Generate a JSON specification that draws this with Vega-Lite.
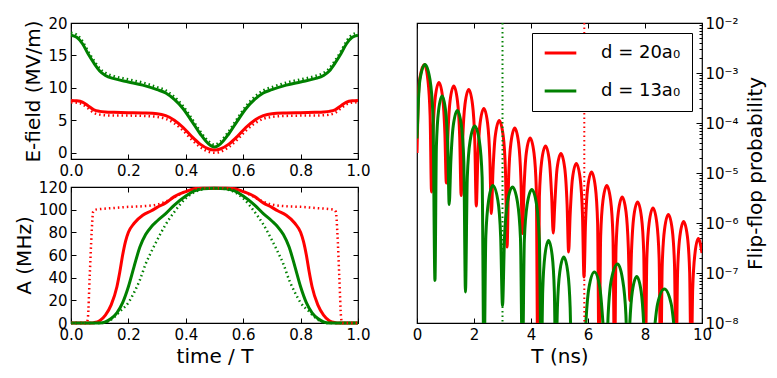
{
  "$schema": "https://vega.github.io/schema/vega-lite/v6.json",
  "background": "white",
  "padding": {"left": 13, "top": 15, "right": 5, "bottom": 5},
  "config": {
    "font": "DejaVu Sans",
    "view": {"stroke": "black", "strokeWidth": 1.2},
    "axis": {"labelFont": "DejaVu Sans", "labelFontSize": 15, "labelColor": "black", "titleFont": "DejaVu Sans", "titleFontSize": 20, "titleFontWeight": "normal", "titleColor": "black", "tickColor": "black", "tickSize": -5, "tickWidth": 1, "labelPadding": 9, "domain": false, "grid": false, "labelFlush": false, "labelOverlap": false, "labelBound": false},
    "line": {"strokeJoin": "round"}
  },
  "datasets": {
    "ef": [
      {"t":0,"v":8.05,"d":"20","k":"s"},{"t":0.02,"v":8.0,"d":"20","k":"s"},{"t":0.04,"v":7.8,"d":"20","k":"s"},{"t":0.06,"v":7.2,"d":"20","k":"s"},{"t":0.08,"v":6.6,"d":"20","k":"s"},{"t":0.1,"v":6.35,"d":"20","k":"s"},{"t":0.12,"v":6.25,"d":"20","k":"s"},{"t":0.15,"v":6.2,"d":"20","k":"s"},{"t":0.2,"v":6.15,"d":"20","k":"s"},{"t":0.25,"v":6.1,"d":"20","k":"s"},{"t":0.3,"v":6.0,"d":"20","k":"s"},{"t":0.33,"v":5.7,"d":"20","k":"s"},{"t":0.36,"v":5.0,"d":"20","k":"s"},{"t":0.39,"v":3.9,"d":"20","k":"s"},{"t":0.42,"v":2.5,"d":"20","k":"s"},{"t":0.45,"v":1.3,"d":"20","k":"s"},{"t":0.48,"v":0.55,"d":"20","k":"s"},{"t":0.5,"v":0.4,"d":"20","k":"s"},{"t":0.52,"v":0.55,"d":"20","k":"s"},{"t":0.55,"v":1.3,"d":"20","k":"s"},{"t":0.58,"v":2.5,"d":"20","k":"s"},{"t":0.61,"v":3.9,"d":"20","k":"s"},{"t":0.64,"v":5.0,"d":"20","k":"s"},{"t":0.67,"v":5.7,"d":"20","k":"s"},{"t":0.7,"v":6.0,"d":"20","k":"s"},{"t":0.75,"v":6.1,"d":"20","k":"s"},{"t":0.8,"v":6.15,"d":"20","k":"s"},{"t":0.85,"v":6.2,"d":"20","k":"s"},{"t":0.88,"v":6.25,"d":"20","k":"s"},{"t":0.9,"v":6.35,"d":"20","k":"s"},{"t":0.92,"v":6.6,"d":"20","k":"s"},{"t":0.94,"v":7.2,"d":"20","k":"s"},{"t":0.96,"v":7.8,"d":"20","k":"s"},{"t":0.98,"v":8.0,"d":"20","k":"s"},{"t":1,"v":8.05,"d":"20","k":"s"},
      {"t":0,"v":18.1,"d":"13","k":"s"},{"t":0.02,"v":17.8,"d":"13","k":"s"},{"t":0.04,"v":16.8,"d":"13","k":"s"},{"t":0.06,"v":15.2,"d":"13","k":"s"},{"t":0.08,"v":13.8,"d":"13","k":"s"},{"t":0.1,"v":12.6,"d":"13","k":"s"},{"t":0.12,"v":11.9,"d":"13","k":"s"},{"t":0.15,"v":11.4,"d":"13","k":"s"},{"t":0.2,"v":10.9,"d":"13","k":"s"},{"t":0.25,"v":10.4,"d":"13","k":"s"},{"t":0.3,"v":9.7,"d":"13","k":"s"},{"t":0.33,"v":9.2,"d":"13","k":"s"},{"t":0.36,"v":8.2,"d":"13","k":"s"},{"t":0.39,"v":6.8,"d":"13","k":"s"},{"t":0.42,"v":4.9,"d":"13","k":"s"},{"t":0.45,"v":2.9,"d":"13","k":"s"},{"t":0.48,"v":1.3,"d":"13","k":"s"},{"t":0.5,"v":0.85,"d":"13","k":"s"},{"t":0.52,"v":1.3,"d":"13","k":"s"},{"t":0.55,"v":2.9,"d":"13","k":"s"},{"t":0.58,"v":4.9,"d":"13","k":"s"},{"t":0.61,"v":6.8,"d":"13","k":"s"},{"t":0.64,"v":8.2,"d":"13","k":"s"},{"t":0.67,"v":9.2,"d":"13","k":"s"},{"t":0.7,"v":9.7,"d":"13","k":"s"},{"t":0.75,"v":10.4,"d":"13","k":"s"},{"t":0.8,"v":10.9,"d":"13","k":"s"},{"t":0.85,"v":11.4,"d":"13","k":"s"},{"t":0.88,"v":11.9,"d":"13","k":"s"},{"t":0.9,"v":12.6,"d":"13","k":"s"},{"t":0.92,"v":13.8,"d":"13","k":"s"},{"t":0.94,"v":15.2,"d":"13","k":"s"},{"t":0.96,"v":16.8,"d":"13","k":"s"},{"t":0.98,"v":17.8,"d":"13","k":"s"},{"t":1,"v":18.1,"d":"13","k":"s"},
      {"t":0,"v":7.75,"d":"20","k":"o"},{"t":0.02,"v":7.7,"d":"20","k":"o"},{"t":0.04,"v":7.45,"d":"20","k":"o"},{"t":0.06,"v":6.8,"d":"20","k":"o"},{"t":0.08,"v":6.1,"d":"20","k":"o"},{"t":0.1,"v":5.85,"d":"20","k":"o"},{"t":0.12,"v":5.75,"d":"20","k":"o"},{"t":0.15,"v":5.7,"d":"20","k":"o"},{"t":0.2,"v":5.7,"d":"20","k":"o"},{"t":0.25,"v":5.65,"d":"20","k":"o"},{"t":0.3,"v":5.5,"d":"20","k":"o"},{"t":0.33,"v":5.2,"d":"20","k":"o"},{"t":0.36,"v":4.5,"d":"20","k":"o"},{"t":0.39,"v":3.4,"d":"20","k":"o"},{"t":0.42,"v":2.0,"d":"20","k":"o"},{"t":0.45,"v":0.85,"d":"20","k":"o"},{"t":0.48,"v":0.1,"d":"20","k":"o"},{"t":0.5,"v":-0.05,"d":"20","k":"o"},{"t":0.52,"v":0.1,"d":"20","k":"o"},{"t":0.55,"v":0.85,"d":"20","k":"o"},{"t":0.58,"v":2.0,"d":"20","k":"o"},{"t":0.61,"v":3.4,"d":"20","k":"o"},{"t":0.64,"v":4.5,"d":"20","k":"o"},{"t":0.67,"v":5.2,"d":"20","k":"o"},{"t":0.7,"v":5.5,"d":"20","k":"o"},{"t":0.75,"v":5.65,"d":"20","k":"o"},{"t":0.8,"v":5.7,"d":"20","k":"o"},{"t":0.85,"v":5.7,"d":"20","k":"o"},{"t":0.88,"v":5.75,"d":"20","k":"o"},{"t":0.9,"v":5.85,"d":"20","k":"o"},{"t":0.92,"v":6.1,"d":"20","k":"o"},{"t":0.94,"v":6.8,"d":"20","k":"o"},{"t":0.96,"v":7.45,"d":"20","k":"o"},{"t":0.98,"v":7.7,"d":"20","k":"o"},{"t":1,"v":7.75,"d":"20","k":"o"},
      {"t":0,"v":18.5,"d":"13","k":"o"},{"t":0.02,"v":18.2,"d":"13","k":"o"},{"t":0.04,"v":17.2,"d":"13","k":"o"},{"t":0.06,"v":15.6,"d":"13","k":"o"},{"t":0.08,"v":14.2,"d":"13","k":"o"},{"t":0.1,"v":13.0,"d":"13","k":"o"},{"t":0.12,"v":12.3,"d":"13","k":"o"},{"t":0.15,"v":11.8,"d":"13","k":"o"},{"t":0.2,"v":11.3,"d":"13","k":"o"},{"t":0.25,"v":10.8,"d":"13","k":"o"},{"t":0.3,"v":10.1,"d":"13","k":"o"},{"t":0.33,"v":9.6,"d":"13","k":"o"},{"t":0.36,"v":8.6,"d":"13","k":"o"},{"t":0.39,"v":7.2,"d":"13","k":"o"},{"t":0.42,"v":5.3,"d":"13","k":"o"},{"t":0.45,"v":3.3,"d":"13","k":"o"},{"t":0.48,"v":1.7,"d":"13","k":"o"},{"t":0.5,"v":1.2,"d":"13","k":"o"},{"t":0.52,"v":1.7,"d":"13","k":"o"},{"t":0.55,"v":3.3,"d":"13","k":"o"},{"t":0.58,"v":5.3,"d":"13","k":"o"},{"t":0.61,"v":7.2,"d":"13","k":"o"},{"t":0.64,"v":8.6,"d":"13","k":"o"},{"t":0.67,"v":9.6,"d":"13","k":"o"},{"t":0.7,"v":10.1,"d":"13","k":"o"},{"t":0.75,"v":10.8,"d":"13","k":"o"},{"t":0.8,"v":11.3,"d":"13","k":"o"},{"t":0.85,"v":11.8,"d":"13","k":"o"},{"t":0.88,"v":12.3,"d":"13","k":"o"},{"t":0.9,"v":13.0,"d":"13","k":"o"},{"t":0.92,"v":14.2,"d":"13","k":"o"},{"t":0.94,"v":15.6,"d":"13","k":"o"},{"t":0.96,"v":17.2,"d":"13","k":"o"},{"t":0.98,"v":18.2,"d":"13","k":"o"},{"t":1,"v":18.5,"d":"13","k":"o"}
    ],
    "am": [
      {"t":0,"v":0,"d":"20","k":"s"},{"t":0.07,"v":0,"d":"20","k":"s"},{"t":0.08,"v":0.3,"d":"20","k":"s"},{"t":0.1,"v":2,"d":"20","k":"s"},{"t":0.12,"v":7,"d":"20","k":"s"},{"t":0.14,"v":16,"d":"20","k":"s"},{"t":0.16,"v":32,"d":"20","k":"s"},{"t":0.17,"v":45,"d":"20","k":"s"},{"t":0.18,"v":60,"d":"20","k":"s"},{"t":0.19,"v":72,"d":"20","k":"s"},{"t":0.2,"v":80,"d":"20","k":"s"},{"t":0.22,"v":88,"d":"20","k":"s"},{"t":0.25,"v":95,"d":"20","k":"s"},{"t":0.28,"v":99,"d":"20","k":"s"},{"t":0.3,"v":102,"d":"20","k":"s"},{"t":0.33,"v":106,"d":"20","k":"s"},{"t":0.36,"v":111.5,"d":"20","k":"s"},{"t":0.4,"v":116,"d":"20","k":"s"},{"t":0.43,"v":118.5,"d":"20","k":"s"},{"t":0.46,"v":119,"d":"20","k":"s"},{"t":0.5,"v":119,"d":"20","k":"s"},{"t":0.54,"v":119,"d":"20","k":"s"},{"t":0.57,"v":118.5,"d":"20","k":"s"},{"t":0.6,"v":116,"d":"20","k":"s"},{"t":0.64,"v":111.5,"d":"20","k":"s"},{"t":0.67,"v":106,"d":"20","k":"s"},{"t":0.7,"v":102,"d":"20","k":"s"},{"t":0.72,"v":99,"d":"20","k":"s"},{"t":0.75,"v":95,"d":"20","k":"s"},{"t":0.78,"v":88,"d":"20","k":"s"},{"t":0.8,"v":80,"d":"20","k":"s"},{"t":0.81,"v":72,"d":"20","k":"s"},{"t":0.82,"v":60,"d":"20","k":"s"},{"t":0.83,"v":45,"d":"20","k":"s"},{"t":0.84,"v":32,"d":"20","k":"s"},{"t":0.86,"v":16,"d":"20","k":"s"},{"t":0.88,"v":7,"d":"20","k":"s"},{"t":0.9,"v":2,"d":"20","k":"s"},{"t":0.92,"v":0.3,"d":"20","k":"s"},{"t":0.93,"v":0,"d":"20","k":"s"},{"t":1,"v":0,"d":"20","k":"s"},
      {"t":0,"v":0,"d":"13","k":"s"},{"t":0.1,"v":0,"d":"13","k":"s"},{"t":0.12,"v":1,"d":"13","k":"s"},{"t":0.14,"v":4,"d":"13","k":"s"},{"t":0.16,"v":9,"d":"13","k":"s"},{"t":0.18,"v":18,"d":"13","k":"s"},{"t":0.2,"v":32,"d":"13","k":"s"},{"t":0.22,"v":50,"d":"13","k":"s"},{"t":0.24,"v":67,"d":"13","k":"s"},{"t":0.26,"v":78,"d":"13","k":"s"},{"t":0.28,"v":85,"d":"13","k":"s"},{"t":0.3,"v":90,"d":"13","k":"s"},{"t":0.33,"v":96.5,"d":"13","k":"s"},{"t":0.36,"v":104,"d":"13","k":"s"},{"t":0.4,"v":112,"d":"13","k":"s"},{"t":0.43,"v":116.5,"d":"13","k":"s"},{"t":0.46,"v":118.5,"d":"13","k":"s"},{"t":0.5,"v":119,"d":"13","k":"s"},{"t":0.54,"v":118.5,"d":"13","k":"s"},{"t":0.57,"v":116.5,"d":"13","k":"s"},{"t":0.6,"v":112,"d":"13","k":"s"},{"t":0.64,"v":104,"d":"13","k":"s"},{"t":0.67,"v":96.5,"d":"13","k":"s"},{"t":0.7,"v":90,"d":"13","k":"s"},{"t":0.72,"v":85,"d":"13","k":"s"},{"t":0.74,"v":78,"d":"13","k":"s"},{"t":0.76,"v":67,"d":"13","k":"s"},{"t":0.78,"v":50,"d":"13","k":"s"},{"t":0.8,"v":32,"d":"13","k":"s"},{"t":0.82,"v":18,"d":"13","k":"s"},{"t":0.84,"v":9,"d":"13","k":"s"},{"t":0.86,"v":4,"d":"13","k":"s"},{"t":0.88,"v":1,"d":"13","k":"s"},{"t":0.9,"v":0,"d":"13","k":"s"},{"t":1,"v":0,"d":"13","k":"s"},
      {"t":0,"v":0,"d":"20","k":"o"},{"t":0.055,"v":0,"d":"20","k":"o"},{"t":0.059,"v":5,"d":"20","k":"o"},{"t":0.065,"v":40,"d":"20","k":"o"},{"t":0.072,"v":80,"d":"20","k":"o"},{"t":0.077,"v":98,"d":"20","k":"o"},{"t":0.085,"v":100,"d":"20","k":"o"},{"t":0.1,"v":100.5,"d":"20","k":"o"},{"t":0.15,"v":101.5,"d":"20","k":"o"},{"t":0.2,"v":102.5,"d":"20","k":"o"},{"t":0.25,"v":103,"d":"20","k":"o"},{"t":0.3,"v":104.5,"d":"20","k":"o"},{"t":0.33,"v":107,"d":"20","k":"o"},{"t":0.36,"v":111,"d":"20","k":"o"},{"t":0.4,"v":116,"d":"20","k":"o"},{"t":0.43,"v":118.5,"d":"20","k":"o"},{"t":0.46,"v":119,"d":"20","k":"o"},{"t":0.5,"v":119,"d":"20","k":"o"},{"t":0.54,"v":119,"d":"20","k":"o"},{"t":0.57,"v":118.5,"d":"20","k":"o"},{"t":0.6,"v":116,"d":"20","k":"o"},{"t":0.64,"v":111,"d":"20","k":"o"},{"t":0.67,"v":107,"d":"20","k":"o"},{"t":0.7,"v":104.5,"d":"20","k":"o"},{"t":0.75,"v":103,"d":"20","k":"o"},{"t":0.8,"v":102.5,"d":"20","k":"o"},{"t":0.85,"v":101.5,"d":"20","k":"o"},{"t":0.9,"v":100.5,"d":"20","k":"o"},{"t":0.915,"v":100,"d":"20","k":"o"},{"t":0.923,"v":98,"d":"20","k":"o"},{"t":0.928,"v":80,"d":"20","k":"o"},{"t":0.935,"v":40,"d":"20","k":"o"},{"t":0.941,"v":5,"d":"20","k":"o"},{"t":0.945,"v":0,"d":"20","k":"o"},{"t":1,"v":0,"d":"20","k":"o"},
      {"t":0,"v":0,"d":"13","k":"o"},{"t":0.11,"v":0,"d":"13","k":"o"},{"t":0.13,"v":1.5,"d":"13","k":"o"},{"t":0.15,"v":5,"d":"13","k":"o"},{"t":0.17,"v":10,"d":"13","k":"o"},{"t":0.2,"v":18,"d":"13","k":"o"},{"t":0.22,"v":27,"d":"13","k":"o"},{"t":0.24,"v":38,"d":"13","k":"o"},{"t":0.26,"v":52,"d":"13","k":"o"},{"t":0.28,"v":63,"d":"13","k":"o"},{"t":0.3,"v":73,"d":"13","k":"o"},{"t":0.33,"v":87,"d":"13","k":"o"},{"t":0.36,"v":98,"d":"13","k":"o"},{"t":0.4,"v":110,"d":"13","k":"o"},{"t":0.43,"v":115.5,"d":"13","k":"o"},{"t":0.46,"v":118,"d":"13","k":"o"},{"t":0.5,"v":119,"d":"13","k":"o"},{"t":0.54,"v":118,"d":"13","k":"o"},{"t":0.57,"v":115.5,"d":"13","k":"o"},{"t":0.6,"v":110,"d":"13","k":"o"},{"t":0.64,"v":98,"d":"13","k":"o"},{"t":0.67,"v":87,"d":"13","k":"o"},{"t":0.7,"v":73,"d":"13","k":"o"},{"t":0.72,"v":63,"d":"13","k":"o"},{"t":0.74,"v":52,"d":"13","k":"o"},{"t":0.76,"v":38,"d":"13","k":"o"},{"t":0.78,"v":27,"d":"13","k":"o"},{"t":0.8,"v":18,"d":"13","k":"o"},{"t":0.83,"v":10,"d":"13","k":"o"},{"t":0.85,"v":5,"d":"13","k":"o"},{"t":0.87,"v":1.5,"d":"13","k":"o"},{"t":0.89,"v":0,"d":"13","k":"o"},{"t":1,"v":0,"d":"13","k":"o"}
    ],
    "ff": [
      {"T":0,"P":2.51e-5,"d":"20"},{"T":0.04,"P":2.51e-4,"d":"20"},{"T":0.1,"P":7.94e-4,"d":"20"},{"T":0.26,"P":1.48e-3,"d":"20"},{"T":0.38,"P":7.41e-4,"d":"20"},{"T":0.46,"P":1.41e-4,"d":"20"},{"T":0.51,"P":4.17e-6,"d":"20"},
      {"T":0.562,"P":6.17e-5,"d":"20"},{"T":0.64,"P":3.24e-4,"d":"20"},{"T":0.77,"P":6.46e-4,"d":"20"},{"T":0.9,"P":3.24e-4,"d":"20"},{"T":0.978,"P":6.17e-5,"d":"20"},{"T":1.03,"P":6.31e-6,"d":"20"},
      {"T":1.082,"P":5.25e-5,"d":"20"},{"T":1.16,"P":2.75e-4,"d":"20"},{"T":1.29,"P":5.5e-4,"d":"20"},{"T":1.42,"P":2.75e-4,"d":"20"},{"T":1.498,"P":5.25e-5,"d":"20"},{"T":1.55,"P":3.55e-6,"d":"20"},
      {"T":1.603,"P":4.47e-5,"d":"20"},{"T":1.683,"P":2.34e-4,"d":"20"},{"T":1.815,"P":4.68e-4,"d":"20"},{"T":1.948,"P":2.34e-4,"d":"20"},{"T":2.027,"P":4.47e-5,"d":"20"},{"T":2.08,"P":2.19e-6,"d":"20"},
      {"T":2.133,"P":1.86e-5,"d":"20"},{"T":2.213,"P":9.77e-5,"d":"20"},{"T":2.345,"P":1.95e-4,"d":"20"},{"T":2.478,"P":9.77e-5,"d":"20"},{"T":2.557,"P":1.86e-5,"d":"20"},{"T":2.61,"P":1.55e-6,"d":"20"},
      {"T":2.665,"P":1.07e-5,"d":"20"},{"T":2.748,"P":5.62e-5,"d":"20"},{"T":2.885,"P":1.12e-4,"d":"20"},{"T":3.023,"P":5.62e-5,"d":"20"},{"T":3.105,"P":1.07e-5,"d":"20"},{"T":3.16,"P":3.31e-7,"d":"20"},
      {"T":3.214,"P":7.59e-6,"d":"20"},{"T":3.295,"P":3.98e-5,"d":"20"},{"T":3.43,"P":7.94e-5,"d":"20"},{"T":3.565,"P":3.98e-5,"d":"20"},{"T":3.646,"P":7.59e-6,"d":"20"},{"T":3.7,"P":6.17e-7,"d":"20"},
      {"T":3.754,"P":4.79e-6,"d":"20"},{"T":3.835,"P":2.51e-5,"d":"20"},{"T":3.97,"P":5.01e-5,"d":"20"},{"T":4.105,"P":2.51e-5,"d":"20"},{"T":4.186,"P":4.79e-6,"d":"20"},{"T":4.24,"P":1e-9,"d":"20"},
      {"T":4.294,"P":3.31e-6,"d":"20"},{"T":4.375,"P":1.74e-5,"d":"20"},{"T":4.51,"P":3.47e-5,"d":"20"},{"T":4.645,"P":1.74e-5,"d":"20"},{"T":4.726,"P":3.31e-6,"d":"20"},{"T":4.78,"P":6.31e-7,"d":"20"},
      {"T":4.834,"P":2.34e-6,"d":"20"},{"T":4.915,"P":1.23e-5,"d":"20"},{"T":5.05,"P":2.45e-5,"d":"20"},{"T":5.185,"P":1.23e-5,"d":"20"},{"T":5.266,"P":2.34e-6,"d":"20"},{"T":5.32,"P":2.63e-7,"d":"20"},
      {"T":5.374,"P":1.48e-6,"d":"20"},{"T":5.455,"P":7.76e-6,"d":"20"},{"T":5.59,"P":1.55e-5,"d":"20"},{"T":5.725,"P":7.76e-6,"d":"20"},{"T":5.806,"P":1.48e-6,"d":"20"},{"T":5.86,"P":8.32e-8,"d":"20"},
      {"T":5.913,"P":1e-6,"d":"20"},{"T":5.993,"P":5.25e-6,"d":"20"},{"T":6.125,"P":1.05e-5,"d":"20"},{"T":6.258,"P":5.25e-6,"d":"20"},{"T":6.337,"P":1e-6,"d":"20"},{"T":6.39,"P":1e-9,"d":"20"},
      {"T":6.444,"P":5.37e-7,"d":"20"},{"T":6.525,"P":2.82e-6,"d":"20"},{"T":6.66,"P":5.62e-6,"d":"20"},{"T":6.795,"P":2.82e-6,"d":"20"},{"T":6.876,"P":5.37e-7,"d":"20"},{"T":6.93,"P":1e-9,"d":"20"},
      {"T":6.984,"P":3.16e-7,"d":"20"},{"T":7.065,"P":1.66e-6,"d":"20"},{"T":7.2,"P":3.31e-6,"d":"20"},{"T":7.335,"P":1.66e-6,"d":"20"},{"T":7.416,"P":3.16e-7,"d":"20"},{"T":7.47,"P":2.82e-8,"d":"20"},
      {"T":7.524,"P":2.51e-7,"d":"20"},{"T":7.605,"P":1.32e-6,"d":"20"},{"T":7.74,"P":2.63e-6,"d":"20"},{"T":7.875,"P":1.32e-6,"d":"20"},{"T":7.956,"P":2.51e-7,"d":"20"},{"T":8.01,"P":1e-9,"d":"20"},
      {"T":8.064,"P":1.91e-7,"d":"20"},{"T":8.145,"P":1e-6,"d":"20"},{"T":8.28,"P":2.0e-6,"d":"20"},{"T":8.415,"P":1e-6,"d":"20"},{"T":8.496,"P":1.91e-7,"d":"20"},{"T":8.55,"P":1e-9,"d":"20"},
      {"T":8.604,"P":1.41e-7,"d":"20"},{"T":8.685,"P":7.41e-7,"d":"20"},{"T":8.82,"P":1.48e-6,"d":"20"},{"T":8.955,"P":7.41e-7,"d":"20"},{"T":9.036,"P":1.41e-7,"d":"20"},{"T":9.09,"P":1e-9,"d":"20"},
      {"T":9.143,"P":1.02e-7,"d":"20"},{"T":9.223,"P":5.37e-7,"d":"20"},{"T":9.355,"P":1.07e-6,"d":"20"},{"T":9.488,"P":5.37e-7,"d":"20"},{"T":9.567,"P":1.02e-7,"d":"20"},{"T":9.62,"P":1e-9,"d":"20"},
      {"T":9.673,"P":4.68e-8,"d":"20"},{"T":9.753,"P":2.45e-7,"d":"20"},{"T":9.87,"P":4.9e-7,"d":"20"},{"T":10,"P":2.51e-7,"d":"20"},
      {"T":0,"P":4.9e-5,"d":"13"},{"T":0.05,"P":2.82e-4,"d":"13"},{"T":0.105,"P":7.41e-4,"d":"13"},{"T":0.28,"P":1.48e-3,"d":"13"},{"T":0.455,"P":7.41e-4,"d":"13"},{"T":0.56,"P":1.41e-4,"d":"13"},{"T":0.63,"P":7.08e-8,"d":"13"},
      {"T":0.68,"P":3.31e-5,"d":"13"},{"T":0.755,"P":1.74e-4,"d":"13"},{"T":0.88,"P":3.47e-4,"d":"13"},{"T":1.005,"P":1.74e-4,"d":"13"},{"T":1.08,"P":3.31e-5,"d":"13"},{"T":1.13,"P":2.34e-6,"d":"13"},
      {"T":1.187,"P":1.7e-5,"d":"13"},{"T":1.273,"P":8.91e-5,"d":"13"},{"T":1.415,"P":1.78e-4,"d":"13"},{"T":1.558,"P":8.91e-5,"d":"13"},{"T":1.643,"P":1.7e-5,"d":"13"},{"T":1.7,"P":4.17e-8,"d":"13"},
      {"T":1.765,"P":8.32e-6,"d":"13"},{"T":1.863,"P":4.37e-5,"d":"13"},{"T":2.025,"P":8.71e-5,"d":"13"},{"T":2.188,"P":4.37e-5,"d":"13"},{"T":2.285,"P":8.32e-6,"d":"13"},{"T":2.35,"P":1e-9,"d":"13"},
      {"T":2.415,"P":5.37e-7,"d":"13"},{"T":2.513,"P":2.82e-6,"d":"13"},{"T":2.66,"P":5.62e-6,"d":"13"},{"T":2.838,"P":2.82e-6,"d":"13"},{"T":2.935,"P":5.37e-7,"d":"13"},{"T":3.0,"P":2.24e-8,"d":"13"},
      {"T":3.07,"P":5.01e-7,"d":"13"},{"T":3.175,"P":2.63e-6,"d":"13"},{"T":3.35,"P":5.25e-6,"d":"13"},{"T":3.525,"P":2.63e-6,"d":"13"},{"T":3.63,"P":5.01e-7,"d":"13"},{"T":3.7,"P":1e-9,"d":"13"},
      {"T":3.766,"P":4.47e-7,"d":"13"},{"T":3.865,"P":2.34e-6,"d":"13"},{"T":4.03,"P":4.68e-6,"d":"13"},{"T":4.195,"P":2.34e-6,"d":"13"},{"T":4.294,"P":4.47e-7,"d":"13"},{"T":4.36,"P":1e-9,"d":"13"},
      {"T":4.411,"P":4.27e-8,"d":"13"},{"T":4.488,"P":2.24e-7,"d":"13"},{"T":4.615,"P":4.47e-7,"d":"13"},{"T":4.743,"P":2.24e-7,"d":"13"},{"T":4.819,"P":4.27e-8,"d":"13"},{"T":4.87,"P":1e-9,"d":"13"},
      {"T":4.926,"P":2.0e-8,"d":"13"},{"T":5.01,"P":1.05e-7,"d":"13"},{"T":5.15,"P":2.09e-7,"d":"13"},{"T":5.29,"P":1.05e-7,"d":"13"},{"T":5.374,"P":2.0e-8,"d":"13"},{"T":5.43,"P":1e-9,"d":"13"},
      {"T":5.655,"P":3.98e-9,"d":"13"},{"T":5.85,"P":1e-9,"d":"13"},
      {"T":5.925,"P":1e-8,"d":"13"},{"T":6.0375,"P":5.25e-8,"d":"13"},{"T":6.225,"P":1.05e-7,"d":"13"},{"T":6.4125,"P":5.25e-8,"d":"13"},{"T":6.525,"P":1e-8,"d":"13"},{"T":6.63,"P":1e-9,"d":"13"},
      {"T":6.707,"P":1.45e-8,"d":"13"},{"T":6.823,"P":7.59e-8,"d":"13"},{"T":7.04,"P":1.51e-7,"d":"13"},{"T":7.21,"P":7.59e-8,"d":"13"},{"T":7.33,"P":1.45e-8,"d":"13"},{"T":7.4,"P":1e-9,"d":"13"},
      {"T":7.46,"P":8.13e-9,"d":"13"},{"T":7.555,"P":4.27e-8,"d":"13"},{"T":7.71,"P":8.51e-8,"d":"13"},{"T":7.865,"P":4.27e-8,"d":"13"},{"T":7.96,"P":8.13e-9,"d":"13"},{"T":8.02,"P":1e-9,"d":"13"},
      {"T":8.13,"P":3.16e-9,"d":"13"},{"T":8.2,"P":1e-9,"d":"13"},
      {"T":8.296,"P":4.57e-9,"d":"13"},{"T":8.44,"P":2.4e-8,"d":"13"},{"T":8.68,"P":4.79e-8,"d":"13"},{"T":8.92,"P":2.4e-8,"d":"13"},{"T":9.064,"P":4.57e-9,"d":"13"},{"T":9.16,"P":1e-9,"d":"13"},
      {"T":9.5,"P":3.16e-9,"d":"13"},{"T":10,"P":1e-9,"d":"13"}
    ],
    "vl": [
      {"T":3.0,"d":"13"},{"T":5.87,"d":"20"}
    ]
  },
  "hconcat": [
    {
      "vconcat": [
        {
          "width": 287, "height": 136,
          "data": {"name": "ef"},
          "layer": [
            {
              "transform": [{"filter": "datum.k == 's'"}],
              "mark": {"type": "line", "strokeWidth": 3, "interpolate": "monotone"},
              "encoding": {
                "x": {"field": "t", "type": "quantitative", "scale": {"domain": [0, 1], "nice": false}, "axis": {"orient": "bottom", "title": null, "values": [0, 0.2, 0.4, 0.6, 0.8, 1], "format": ".1f"}},
                "y": {"field": "v", "type": "quantitative", "scale": {"domain": [-1, 20], "nice": false}, "axis": {"orient": "left", "title": "E-field (MV/m)", "values": [0, 5, 10, 15, 20]}},
                "color": {"field": "d", "type": "nominal", "scale": {"domain": ["20", "13"], "range": ["#ff0000", "#008000"]}, "legend": null}
              }
            },
            {
              "transform": [{"filter": "datum.k == 'o'"}],
              "mark": {"type": "line", "strokeWidth": 2.5, "strokeDash": [1.5, 3], "interpolate": "monotone"},
              "encoding": {
                "x": {"field": "t", "type": "quantitative", "scale": {"domain": [0, 1], "nice": false}, "axis": {"orient": "top", "labels": false, "title": null, "values": [0, 0.2, 0.4, 0.6, 0.8, 1]}},
                "y": {"field": "v", "type": "quantitative", "scale": {"domain": [-1, 20], "nice": false}, "axis": {"orient": "right", "labels": false, "title": null, "values": [0, 5, 10, 15, 20]}},
                "color": {"field": "d", "type": "nominal", "scale": {"domain": ["20", "13"], "range": ["#ff0000", "#008000"]}, "legend": null}
              }
            }
          ],
          "resolve": {"scale": {"x": "independent", "y": "independent"}, "axis": {"x": "independent", "y": "independent"}}
        },
        {
          "width": 287, "height": 136,
          "data": {"name": "am"},
          "layer": [
            {
              "transform": [{"filter": "datum.k == 's'"}],
              "mark": {"type": "line", "strokeWidth": 3, "interpolate": "monotone"},
              "encoding": {
                "x": {"field": "t", "type": "quantitative", "scale": {"domain": [0, 1], "nice": false}, "axis": {"orient": "bottom", "title": "time / T", "values": [0, 0.2, 0.4, 0.6, 0.8, 1], "format": ".1f"}},
                "y": {"field": "v", "type": "quantitative", "scale": {"domain": [0, 120], "nice": false}, "axis": {"orient": "left", "title": "A (MHz)", "values": [0, 20, 40, 60, 80, 100, 120]}},
                "color": {"field": "d", "type": "nominal", "scale": {"domain": ["20", "13"], "range": ["#ff0000", "#008000"]}, "legend": null}
              }
            },
            {
              "transform": [{"filter": "datum.k == 'o'"}],
              "mark": {"type": "line", "strokeWidth": 2.5, "strokeDash": [1.5, 3], "interpolate": "monotone"},
              "encoding": {
                "x": {"field": "t", "type": "quantitative", "scale": {"domain": [0, 1], "nice": false}, "axis": {"orient": "top", "labels": false, "title": null, "values": [0, 0.2, 0.4, 0.6, 0.8, 1]}},
                "y": {"field": "v", "type": "quantitative", "scale": {"domain": [0, 120], "nice": false}, "axis": {"orient": "right", "labels": false, "title": null, "values": [0, 20, 40, 60, 80, 100, 120]}},
                "color": {"field": "d", "type": "nominal", "scale": {"domain": ["20", "13"], "range": ["#ff0000", "#008000"]}, "legend": null}
              }
            }
          ],
          "resolve": {"scale": {"x": "independent", "y": "independent"}, "axis": {"x": "independent", "y": "independent"}}
        }
      ],
      "spacing": 28,
      "bounds": "flush"
    },
    {
      "width": 285, "height": 300,
      "layer": [
        {
          "data": {"name": "ff"},
          "mark": {"type": "line", "strokeWidth": 3, "interpolate": "monotone", "clip": true, "strokeJoin": "round"},
          "encoding": {
            "x": {"field": "T", "type": "quantitative", "scale": {"domain": [0, 10], "nice": false}, "axis": {"orient": "bottom", "title": "T (ns)", "values": [0, 2, 4, 6, 8, 10], "format": "d"}},
            "y": {"field": "P", "type": "quantitative", "scale": {"type": "log", "domain": [1e-8, 1e-2], "nice": false},
              "axis": {"orient": "right", "title": "Flip-flop probability", "titleAngle": 270, "titleBaseline": "top", "titlePadding": 7,
                "values": [1e-8,2e-8,3e-8,4e-8,5e-8,6e-8,7e-8,8e-8,9e-8,1e-7,2e-7,3e-7,4e-7,5e-7,6e-7,7e-7,8e-7,9e-7,1e-6,2e-6,3e-6,4e-6,5e-6,6e-6,7e-6,8e-6,9e-6,1e-5,2e-5,3e-5,4e-5,5e-5,6e-5,7e-5,8e-5,9e-5,1e-4,2e-4,3e-4,4e-4,5e-4,6e-4,7e-4,8e-4,9e-4,1e-3,2e-3,3e-3,4e-3,5e-3,6e-3,7e-3,8e-3,9e-3,1e-2],
                "labelExpr": "abs(log(datum.value)/LN10 - round(log(datum.value)/LN10)) < 0.01 ? '10⁻' + ['⁰','¹','²','³','⁴','⁵','⁶','⁷','⁸','⁹'][-round(log(datum.value)/LN10)] : ''",
                "tickSize": {"condition": {"test": "abs(log(datum.value)/LN10 - round(log(datum.value)/LN10)) < 0.01", "value": -6}, "value": -3}
              }},
            "color": {"field": "d", "type": "nominal", "scale": {"domain": ["20", "13"], "range": ["#ff0000", "#008000"]},
              "legend": {"orient": "top-right", "title": null, "offset": 10, "symbolType": "stroke", "symbolSize": 1000, "symbolStrokeWidth": 3, "labelFont": "DejaVu Sans", "labelFontSize": 18, "labelColor": "black", "labelExpr": "'d = ' + datum.label + 'a₀'", "strokeColor": "black", "fillColor": "white", "padding": 11, "clipHeight": 18, "rowPadding": 20, "labelOffset": 23, "cornerRadius": 0}}
          }
        },
        {
          "data": {"name": "vl"},
          "mark": {"type": "rule", "strokeWidth": 2, "strokeDash": [1.5, 3]},
          "encoding": {
            "x": {"field": "T", "type": "quantitative", "scale": {"domain": [0, 10], "nice": false}, "axis": {"orient": "top", "labels": false, "title": null, "values": [0, 2, 4, 6, 8, 10]}},
            "color": {"field": "d", "type": "nominal", "scale": {"domain": ["20", "13"], "range": ["#ff0000", "#008000"]}, "legend": null}
          }
        }
      ],
      "resolve": {"scale": {"x": "independent"}, "axis": {"x": "independent"}}
    }
  ],
  "spacing": 40,
  "bounds": "full",
  "resolve": {"scale": {"color": "independent"}}
}
